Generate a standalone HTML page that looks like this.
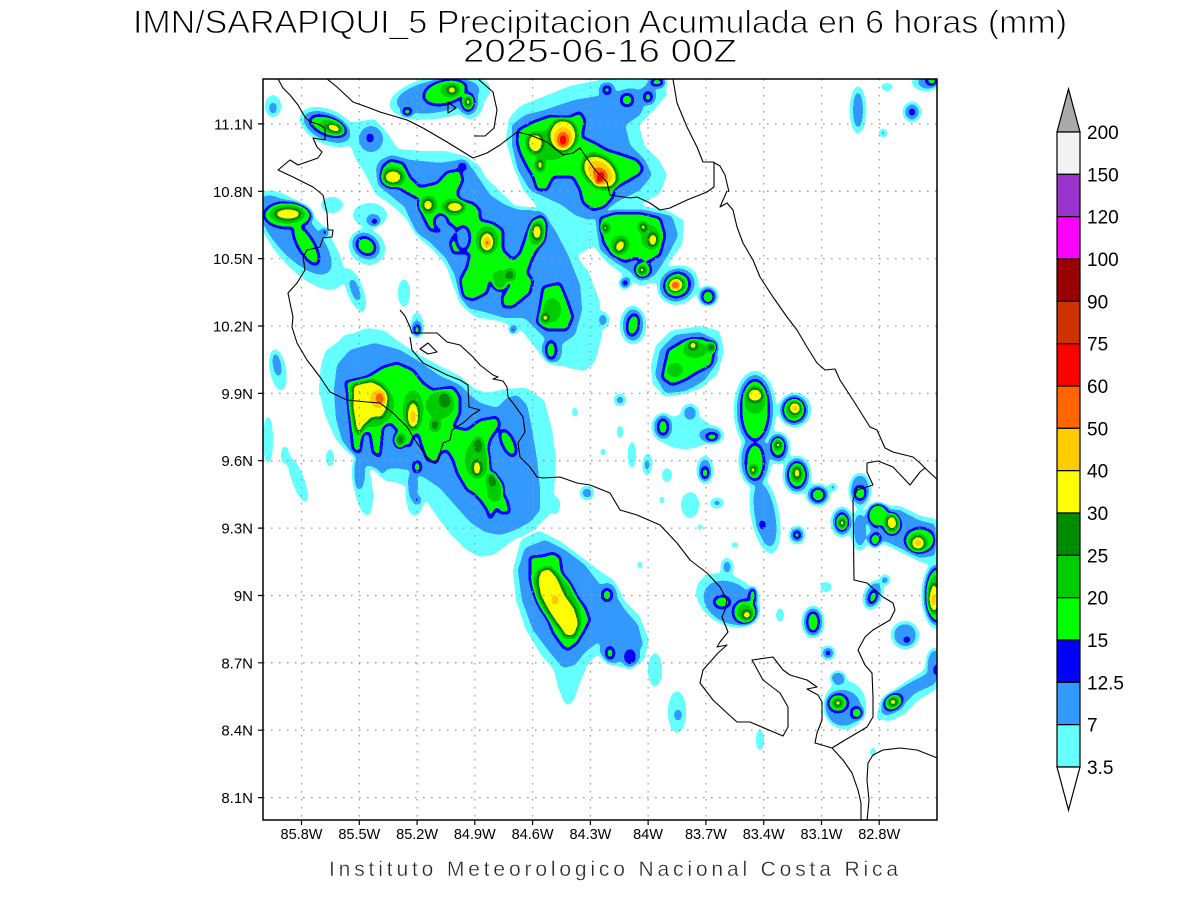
<!DOCTYPE html>
<html><head><meta charset="utf-8"><style>
html,body{margin:0;padding:0;background:#fff;}
svg{display:block;}
text{font-family:"Liberation Sans",sans-serif;}
</style></head><body>
<svg width="1200" height="900" viewBox="0 0 1200 900" xmlns="http://www.w3.org/2000/svg">
<defs>
<clipPath id="pc"><rect x="263" y="79" width="674" height="741"/></clipPath>
<filter id="q" filterUnits="userSpaceOnUse" x="230" y="50" width="740" height="800" color-interpolation-filters="sRGB">
<feGaussianBlur stdDeviation="2"/>
<feComponentTransfer>
<feFuncR type="discrete" tableValues="1 0.4 0.2 0 0 0 0 1 1 1 1 0.8 0.6 1 0.6 0.95"/>
<feFuncG type="discrete" tableValues="1 1 0.6 0 1 0.8 0.55 1 0.8 0.4 0 0.2 0 0 0.2 0.95"/>
<feFuncB type="discrete" tableValues="1 1 1 1 0 0 0 0 0 0 0 0 0 1 0.8 0.95"/>
</feComponentTransfer>
</filter>
</defs>
<rect width="1200" height="900" fill="#fff"/>
<g clip-path="url(#pc)">
<g filter="url(#q)">
<rect x="230" y="50" width="740" height="800" fill="#000"/>
<!-- L1 cyan -->
<g fill="#181818">
<ellipse cx="273" cy="106" rx="9" ry="12"/>
<ellipse cx="328" cy="127" rx="31" ry="18" transform="rotate(25 328 127)"/>
<ellipse cx="300" cy="240" rx="62" ry="27" transform="rotate(50 300 240)"/>
<ellipse cx="370" cy="215" rx="18" ry="13"/>
<ellipse cx="367" cy="247" rx="20" ry="18" transform="rotate(40 367 247)"/>
<ellipse cx="332" cy="205" rx="12" ry="9"/>
<ellipse cx="278" cy="370" rx="9" ry="22" transform="rotate(-10 278 370)"/>
<ellipse cx="355" cy="290" rx="9" ry="24" transform="rotate(-20 355 290)"/>
<ellipse cx="404" cy="293" rx="7" ry="15"/>
<ellipse cx="268" cy="440" rx="6" ry="25"/>
<ellipse cx="298" cy="480" rx="7" ry="25" transform="rotate(-20 298 480)"/>
<ellipse cx="285" cy="455" rx="5" ry="10"/>
<ellipse cx="417" cy="325" rx="7" ry="14"/>
<ellipse cx="440" cy="97" rx="52" ry="22" transform="rotate(-10 440 97)"/>
<ellipse cx="470" cy="100" rx="15" ry="20"/>
<polygon points="350,122 375,118 390,135 398,148 420,150 445,150 465,155 480,165 487,178 500,190 515,205 533,207 555,225 575,250 590,275 598,300 592,335 575,360 560,368 540,355 520,330 500,322 475,318 460,305 452,285 445,265 432,250 418,238 405,218 390,205 375,195 365,175 355,160 348,140"/>
<polygon points="508,118 520,105 545,95 570,85 600,79 640,79 665,79 668,95 655,110 640,125 645,145 660,160 668,175 660,195 640,205 625,212 610,225 595,245 580,255 565,245 550,222 535,205 522,190 512,165 505,140"/>
<polygon points="588,212 605,205 640,205 668,210 685,220 683,245 670,262 660,282 640,287 625,277 605,262 592,245"/>
<ellipse cx="678" cy="285" rx="22" ry="20" transform="rotate(-30 678 285)"/>
<ellipse cx="633" cy="325" rx="14" ry="20"/>
<ellipse cx="603" cy="320" rx="7" ry="9"/>
<polygon points="655,345 670,330 700,325 720,330 725,350 718,375 700,390 680,395 665,398 652,385 650,365"/>
<ellipse cx="755" cy="410" rx="22" ry="40"/>
<ellipse cx="755" cy="460" rx="17" ry="28"/>
<ellipse cx="778" cy="448" rx="13" ry="17"/>
<ellipse cx="795" cy="410" rx="17" ry="18"/>
<ellipse cx="663" cy="427" rx="12" ry="15"/>
<ellipse cx="710" cy="435" rx="15" ry="10"/>
<ellipse cx="690" cy="413" rx="10" ry="10"/>
<ellipse cx="685" cy="432" rx="28" ry="18"/>
<polygon points="560,262 588,268 600,300 603,335 596,362 585,372 565,368 555,345"/>
<ellipse cx="620" cy="400" rx="7" ry="7"/>
<ellipse cx="858" cy="110" rx="9" ry="25"/>
<ellipse cx="912" cy="112" rx="10" ry="11"/>
<ellipse cx="883" cy="133" rx="5" ry="5"/>
<ellipse cx="925" cy="82" rx="14" ry="10"/>
<ellipse cx="887" cy="87" rx="7" ry="5"/>
<ellipse cx="705" cy="470" rx="9" ry="15"/>
<ellipse cx="765" cy="515" rx="15" ry="40" transform="rotate(-10 765 515)"/>
<ellipse cx="797" cy="475" rx="15" ry="20"/>
<ellipse cx="818" cy="495" rx="13" ry="12"/>
<ellipse cx="860" cy="490" rx="12" ry="18"/>
<ellipse cx="842" cy="522" rx="12" ry="16"/>
<ellipse cx="797" cy="535" rx="9" ry="10"/>
<polygon points="868,515 880,505 900,505 920,515 937,518 937,560 925,565 905,555 885,545 870,540 865,525"/>
<ellipse cx="937" cy="595" rx="16" ry="35"/>
<ellipse cx="873" cy="595" rx="10" ry="16" transform="rotate(20 873 595)"/>
<ellipse cx="905" cy="635" rx="15" ry="15"/>
<ellipse cx="935" cy="665" rx="10" ry="18"/>
<ellipse cx="728" cy="600" rx="35" ry="25" transform="rotate(30 728 600)"/>
<ellipse cx="727" cy="567" rx="7" ry="10"/>
<ellipse cx="813" cy="622" rx="12" ry="17"/>
<ellipse cx="828" cy="653" rx="8" ry="8"/>
<ellipse cx="845" cy="705" rx="22" ry="25"/>
<polygon points="875,720 880,700 900,685 920,672 937,655 937,690 920,700 905,715 890,722"/>
<ellipse cx="655" cy="670" rx="8" ry="18"/>
<ellipse cx="677" cy="712" rx="10" ry="22"/>
<ellipse cx="760" cy="740" rx="5" ry="12"/>
<ellipse cx="780" cy="615" rx="5" ry="8"/>
<ellipse cx="826" cy="587" rx="7" ry="6"/>
<ellipse cx="690" cy="505" rx="10" ry="14"/>
<ellipse cx="648" cy="462" rx="5" ry="10"/>
<ellipse cx="667" cy="475" rx="6" ry="8"/>
<ellipse cx="717" cy="503" rx="8" ry="6"/>
<ellipse cx="860" cy="530" rx="10" ry="22"/>
<ellipse cx="873" cy="752" rx="4" ry="6"/>
<ellipse cx="885" cy="580" rx="6" ry="6"/>
<polygon points="325,350 345,336 367,327 385,330 405,345 430,360 460,375 475,388 487,392 505,388 527,387 545,400 553,430 557,460 555,490 550,515 535,530 515,540 495,555 480,558 465,550 450,535 437,518 425,500 410,488 395,483 385,482 375,472 362,460 347,452 335,440 324,415 318,390 320,365"/>
<ellipse cx="363" cy="485" rx="10" ry="32" transform="rotate(-8 363 485)"/>
<ellipse cx="415" cy="495" rx="10" ry="22"/>
<ellipse cx="330" cy="458" rx="5" ry="10"/>
<polygon points="520,540 540,530 560,540 580,555 600,570 615,580 625,600 640,615 650,640 645,660 630,670 610,665 598,655 588,665 580,685 575,700 565,705 558,690 553,670 540,655 525,630 515,600 512,570"/>
<ellipse cx="568" cy="688" rx="8" ry="18"/>
<ellipse cx="555" cy="505" rx="6" ry="10"/>
<ellipse cx="632" cy="455" rx="5" ry="15"/>
<ellipse cx="587" cy="493" rx="8" ry="8"/>
<ellipse cx="647" cy="465" rx="5" ry="12"/>
<ellipse cx="350" cy="345" rx="12" ry="12"/>
<ellipse cx="620" cy="432" rx="4" ry="8"/>
<ellipse cx="603" cy="452" rx="4" ry="5"/>
<ellipse cx="575" cy="412" rx="4" ry="6"/>
<ellipse cx="700" cy="527" rx="4" ry="4"/>
<ellipse cx="662" cy="500" rx="4" ry="5"/>
<ellipse cx="735" cy="545" rx="5" ry="4"/>
<ellipse cx="640" cy="565" rx="4" ry="5"/>
</g>
<!-- L2 light blue -->
<g fill="#282828">
<ellipse cx="273" cy="108" rx="4" ry="6"/>
<ellipse cx="327" cy="127" rx="25" ry="13" transform="rotate(25 327 127)"/>
<ellipse cx="295" cy="235" rx="50" ry="20" transform="rotate(48 295 235)"/>
<ellipse cx="373" cy="220" rx="7" ry="6"/>
<ellipse cx="366" cy="246" rx="15" ry="12" transform="rotate(40 366 246)"/>
<ellipse cx="277" cy="365" rx="4" ry="12" transform="rotate(-10 277 365)"/>
<ellipse cx="355" cy="290" rx="4" ry="12" transform="rotate(-20 355 290)"/>
<ellipse cx="417" cy="328" rx="5" ry="8"/>
<ellipse cx="438" cy="96" rx="42" ry="16" transform="rotate(-10 438 96)"/>
<ellipse cx="468" cy="101" rx="10" ry="14"/>
<polygon points="380,160 392,155 410,160 440,163 460,160 472,168 480,180 490,195 505,205 520,210 540,210 555,230 568,255 580,285 582,310 575,335 560,345 545,338 525,318 505,318 485,312 468,308 460,295 455,275 445,257 430,242 415,232 405,207 390,195 378,185 376,168"/>
<ellipse cx="371" cy="139" rx="12" ry="13"/>
<ellipse cx="556" cy="308" rx="22" ry="28" transform="rotate(20 556 308)"/>
<ellipse cx="552" cy="350" rx="10" ry="14"/>
<polygon points="512,125 525,115 545,110 575,100 605,95 630,88 650,92 640,115 625,125 630,145 645,160 652,175 640,190 620,200 605,210 590,220 575,215 562,205 545,197 530,190 518,170 512,145"/>
<ellipse cx="607" cy="90" rx="8" ry="8"/>
<ellipse cx="627" cy="100" rx="10" ry="10"/>
<ellipse cx="648" cy="95" rx="8" ry="10"/>
<ellipse cx="657" cy="82" rx="10" ry="6"/>
<polygon points="595,215 615,210 645,210 672,216 678,235 668,255 655,275 640,280 628,270 615,262 600,250"/>
<ellipse cx="677" cy="285" rx="18" ry="16" transform="rotate(-30 677 285)"/>
<ellipse cx="708" cy="296" rx="10" ry="10"/>
<ellipse cx="633" cy="325" rx="10" ry="16"/>
<ellipse cx="625" cy="283" rx="6" ry="6"/>
<ellipse cx="603" cy="320" rx="4" ry="6"/>
<polygon points="660,350 675,335 700,332 715,340 718,360 705,380 685,392 665,393 655,375"/>
<ellipse cx="755" cy="410" rx="18" ry="35"/>
<ellipse cx="755" cy="460" rx="14" ry="25"/>
<ellipse cx="778" cy="448" rx="10" ry="14"/>
<ellipse cx="794" cy="410" rx="14" ry="15"/>
<ellipse cx="663" cy="427" rx="9" ry="12"/>
<ellipse cx="710" cy="435" rx="11" ry="7"/>
<ellipse cx="690" cy="413" rx="6" ry="7"/>
<ellipse cx="620" cy="400" rx="4" ry="4"/>
<ellipse cx="858" cy="110" rx="5" ry="18"/>
<ellipse cx="912" cy="112" rx="7" ry="8"/>
<ellipse cx="883" cy="133" rx="3" ry="3"/>
<ellipse cx="928" cy="82" rx="10" ry="7"/>
<ellipse cx="705" cy="470" rx="6" ry="11"/>
<ellipse cx="765" cy="515" rx="10" ry="32" transform="rotate(-10 765 515)"/>
<ellipse cx="797" cy="475" rx="12" ry="17"/>
<ellipse cx="818" cy="495" rx="10" ry="9"/>
<ellipse cx="833" cy="487" rx="4" ry="4"/>
<ellipse cx="860" cy="490" rx="9" ry="15"/>
<ellipse cx="842" cy="522" rx="9" ry="13"/>
<ellipse cx="797" cy="535" rx="6" ry="7"/>
<polygon points="872,518 885,510 900,510 918,520 937,525 937,555 920,558 900,548 882,540 870,530"/>
<ellipse cx="937" cy="595" rx="13" ry="30"/>
<ellipse cx="873" cy="595" rx="7" ry="13" transform="rotate(20 873 595)"/>
<ellipse cx="905" cy="635" rx="11" ry="11"/>
<ellipse cx="935" cy="665" rx="8" ry="15"/>
<ellipse cx="730" cy="603" rx="28" ry="20" transform="rotate(30 730 603)"/>
<ellipse cx="727" cy="567" rx="4" ry="6"/>
<ellipse cx="813" cy="622" rx="9" ry="14"/>
<ellipse cx="828" cy="653" rx="5" ry="5"/>
<ellipse cx="843" cy="708" rx="18" ry="18"/>
<ellipse cx="838" cy="678" rx="8" ry="7"/>
<polygon points="880,712 888,695 905,685 925,675 937,665 937,683 915,693 900,708 887,716"/>
<ellipse cx="860" cy="530" rx="6" ry="16"/>
<ellipse cx="885" cy="580" rx="4" ry="4"/>
<ellipse cx="717" cy="503" rx="4" ry="3"/>
<ellipse cx="678" cy="715" rx="4" ry="6"/>
<polygon points="337,365 350,350 375,343 400,350 420,362 440,376 460,385 470,395 480,403 497,408 507,398 517,395 527,405 532,430 537,460 540,490 540,510 530,522 515,530 500,535 485,532 470,522 455,505 440,488 425,478 410,470 395,468 380,470 365,465 352,455 342,440 336,418 334,390"/>
<ellipse cx="359" cy="472" rx="6" ry="18"/>
<ellipse cx="413" cy="485" rx="5" ry="15"/>
<ellipse cx="382" cy="462" rx="5" ry="12"/>
<polygon points="525,548 545,540 565,550 585,565 600,585 612,590 625,610 638,625 643,645 632,660 615,657 598,642 585,652 575,665 563,668 548,650 533,630 522,600 518,570"/>
<ellipse cx="607" cy="595" rx="10" ry="12"/>
<ellipse cx="612" cy="650" rx="12" ry="14"/>
<ellipse cx="630" cy="655" rx="10" ry="12"/>
<ellipse cx="587" cy="493" rx="5" ry="5"/>
<ellipse cx="647" cy="465" rx="3" ry="6"/>
</g>
<!-- L3 blue -->
<g fill="#383838">
<ellipse cx="370" cy="138" rx="4" ry="5"/>
<ellipse cx="375" cy="222" rx="4" ry="4"/>
<ellipse cx="325" cy="232" rx="4" ry="4"/>
<ellipse cx="912" cy="112" rx="4" ry="4"/>
<ellipse cx="625" cy="283" rx="4" ry="4"/>
<ellipse cx="762" cy="525" rx="4" ry="5"/>
<ellipse cx="907" cy="640" rx="4" ry="4"/>
<ellipse cx="937" cy="670" rx="4" ry="6"/>
<ellipse cx="828" cy="653" rx="4" ry="4"/>
<ellipse cx="630" cy="657" rx="6" ry="8"/>
<ellipse cx="417" cy="500" rx="3" ry="4"/>
<ellipse cx="513" cy="330" rx="4" ry="4"/>
<ellipse cx="463" cy="166" rx="5" ry="5"/>
</g>
<!-- L4 lime -->
<g fill="#484848">
<ellipse cx="328" cy="126" rx="19" ry="9" transform="rotate(20 328 126)"/>
<ellipse cx="288" cy="215" rx="24" ry="13"/>
<ellipse cx="306" cy="245" rx="22" ry="8" transform="rotate(60 306 245)"/>
<ellipse cx="366" cy="246" rx="10" ry="8" transform="rotate(40 366 246)"/>
<ellipse cx="417" cy="330" rx="4" ry="5"/>
<ellipse cx="445" cy="92" rx="22" ry="12" transform="rotate(-15 445 92)"/>
<ellipse cx="468" cy="102" rx="6" ry="9"/>
<ellipse cx="407" cy="112" rx="5" ry="4"/>
<polygon points="382,167 390,160 403,163 410,177 420,187 437,183 447,172 460,170 463,180 457,193 460,200 473,203 480,210 480,220 493,223 503,230 503,250 513,260 520,253 527,233 533,220 543,215 547,223 543,240 533,257 527,273 533,280 530,293 513,307 503,307 502,297 510,285 510,272 503,283 490,280 487,293 473,300 463,297 460,280 467,267 470,253 453,253 450,243 457,230 450,223 440,232 430,230 423,217 420,200 407,193 397,187 383,180"/>
<polygon points="543,287 560,283 567,300 573,317 567,330 547,330 537,323 540,307"/>
<ellipse cx="551" cy="350" rx="5" ry="9"/>
<polygon points="518,130 533,122 550,116 567,118 580,112 585,120 582,137 595,143 607,150 623,155 637,160 643,168 640,174 628,181 615,188 613,197 605,207 593,210 583,203 580,190 573,177 553,177 547,190 537,190 533,177 527,167 520,153 517,142"/>
<ellipse cx="607" cy="90" rx="4" ry="4"/>
<ellipse cx="627" cy="100" rx="6" ry="6"/>
<ellipse cx="648" cy="97" rx="4" ry="5"/>
<ellipse cx="657" cy="82" rx="6" ry="4"/>
<polygon points="600,218 615,213 640,213 660,218 665,235 660,255 648,262 635,258 625,262 612,255 603,242"/>
<ellipse cx="643" cy="270" rx="8" ry="8"/>
<ellipse cx="677" cy="285" rx="13" ry="12" transform="rotate(-30 677 285)"/>
<ellipse cx="708" cy="297" rx="6" ry="7"/>
<ellipse cx="633" cy="325" rx="6" ry="11" transform="rotate(10 633 325)"/>
<polygon points="668,350 685,340 703,338 715,345 712,365 698,372 685,380 672,385 662,378"/>
<ellipse cx="755" cy="410" rx="14" ry="30"/>
<ellipse cx="755" cy="462" rx="9" ry="18"/>
<ellipse cx="778" cy="447" rx="7" ry="10"/>
<ellipse cx="794" cy="410" rx="11" ry="12"/>
<ellipse cx="663" cy="427" rx="5" ry="8"/>
<ellipse cx="712" cy="437" rx="6" ry="4"/>
<ellipse cx="932" cy="81" rx="6" ry="4"/>
<ellipse cx="705" cy="473" rx="4" ry="6"/>
<ellipse cx="797" cy="475" rx="9" ry="13"/>
<ellipse cx="818" cy="495" rx="7" ry="7"/>
<ellipse cx="860" cy="493" rx="6" ry="7"/>
<ellipse cx="842" cy="522" rx="6" ry="9"/>
<ellipse cx="797" cy="535" rx="4" ry="4"/>
<ellipse cx="878" cy="515" rx="11" ry="12"/>
<ellipse cx="920" cy="540" rx="15" ry="12"/>
<ellipse cx="875" cy="540" rx="6" ry="7"/>
<ellipse cx="937" cy="595" rx="11" ry="27"/>
<ellipse cx="873" cy="597" rx="4" ry="7" transform="rotate(20 873 597)"/>
<ellipse cx="722" cy="602" rx="8" ry="6"/>
<ellipse cx="745" cy="612" rx="12" ry="12"/>
<ellipse cx="753" cy="595" rx="4" ry="8"/>
<ellipse cx="813" cy="622" rx="6" ry="10"/>
<ellipse cx="838" cy="703" rx="10" ry="9"/>
<ellipse cx="857" cy="713" rx="6" ry="6"/>
<ellipse cx="893" cy="702" rx="10" ry="8" transform="rotate(-30 893 702)"/>
<polygon points="347,390 345,382 367,377 383,367 397,363 413,370 423,383 433,390 453,387 460,397 460,413 453,427 467,430 480,420 497,417 500,425 490,440 487,453 493,480 500,490 507,500 510,513 500,513 497,507 490,520 487,510 480,500 473,493 467,490 457,473 453,460 447,450 440,453 437,463 427,460 422,447 418,433 413,437 410,447 403,443 397,430 390,423 383,427 380,457 373,453 370,433 363,433 360,453 353,450 350,420"/>
<ellipse cx="508" cy="443" rx="6" ry="14" transform="rotate(-25 508 443)"/>
<ellipse cx="417" cy="467" rx="4" ry="6"/>
<polygon points="530,557 543,556 553,553 560,557 562,573 570,583 577,597 585,607 590,620 583,633 577,643 568,650 563,647 553,633 547,617 538,603 533,590 530,580"/>
<ellipse cx="607" cy="595" rx="5" ry="6"/>
<ellipse cx="610" cy="653" rx="4" ry="6"/>
</g>
<!-- holes -->
<g fill="#282828">
<ellipse cx="441" cy="222" rx="7" ry="8"/>
<ellipse cx="463" cy="238" rx="7" ry="12"/>
</g>
<!-- L5 green -->
<g fill="#585858">
<ellipse cx="331" cy="127" rx="12" ry="6" transform="rotate(20 331 127)"/>
<ellipse cx="287" cy="214" rx="18" ry="9"/>
<ellipse cx="450" cy="90" rx="10" ry="7"/>
<ellipse cx="393" cy="177" rx="12" ry="10"/>
<ellipse cx="428" cy="205" rx="9" ry="9"/>
<ellipse cx="453" cy="207" rx="12" ry="8"/>
<ellipse cx="487" cy="240" rx="11" ry="14"/>
<ellipse cx="537" cy="233" rx="8" ry="13"/>
<ellipse cx="500" cy="280" rx="8" ry="10"/>
<ellipse cx="552" cy="310" rx="9" ry="12"/>
<ellipse cx="550" cy="145" rx="20" ry="15"/>
<ellipse cx="600" cy="170" rx="20" ry="14" transform="rotate(45 600 170)"/>
<ellipse cx="620" cy="245" rx="9" ry="10" transform="rotate(30 620 245)"/>
<ellipse cx="650" cy="237" rx="9" ry="12"/>
<ellipse cx="695" cy="350" rx="12" ry="8"/>
<ellipse cx="675" cy="370" rx="8" ry="7"/>
<ellipse cx="755" cy="400" rx="11" ry="14"/>
<ellipse cx="794" cy="410" rx="8" ry="9"/>
<ellipse cx="797" cy="474" rx="6" ry="9"/>
<ellipse cx="892" cy="525" rx="8" ry="9"/>
<ellipse cx="918" cy="543" rx="10" ry="9"/>
<ellipse cx="935" cy="595" rx="8" ry="20"/>
<ellipse cx="745" cy="612" rx="8" ry="8"/>
<ellipse cx="372" cy="405" rx="22" ry="22"/>
<ellipse cx="413" cy="410" rx="10" ry="20"/>
<ellipse cx="440" cy="405" rx="14" ry="14"/>
<ellipse cx="477" cy="460" rx="12" ry="18"/>
<ellipse cx="495" cy="490" rx="8" ry="12"/>
<ellipse cx="557" cy="600" rx="18" ry="35" transform="rotate(-30 557 600)"/>
</g>
<!-- L6 dark green -->
<g fill="#686868">
<ellipse cx="510" cy="275" rx="5" ry="6"/>
<ellipse cx="445" cy="400" rx="6" ry="8"/>
<ellipse cx="492" cy="480" rx="5" ry="7"/>
<ellipse cx="400" cy="440" rx="5" ry="7"/>
<ellipse cx="478" cy="445" rx="5" ry="8"/>
<ellipse cx="435" cy="425" rx="5" ry="6"/>
</g>
<!-- L7 yellow -->
<g fill="#787878">
<ellipse cx="334" cy="128" rx="8" ry="4.5" transform="rotate(20 334 128)"/>
<ellipse cx="288" cy="214" rx="13" ry="6"/>
<ellipse cx="452" cy="90" rx="5" ry="4.5"/>
<ellipse cx="468" cy="102" rx="4" ry="5"/>
<ellipse cx="393" cy="177" rx="9" ry="7"/>
<ellipse cx="428" cy="205" rx="5.5" ry="6"/>
<ellipse cx="455" cy="207" rx="9" ry="5.5"/>
<ellipse cx="487" cy="242" rx="7" ry="10"/>
<ellipse cx="537" cy="232" rx="5" ry="8"/>
<ellipse cx="545" cy="318" rx="4" ry="5"/>
<ellipse cx="535" cy="143" rx="8" ry="10"/>
<ellipse cx="563" cy="135" rx="14" ry="16"/>
<ellipse cx="600" cy="172" rx="20" ry="14" transform="rotate(40 600 172)"/>
<ellipse cx="540" cy="165" rx="4" ry="6"/>
<ellipse cx="605" cy="228" rx="4" ry="4.5"/>
<ellipse cx="620" cy="246" rx="5" ry="7" transform="rotate(30 620 246)"/>
<ellipse cx="643" cy="227" rx="4" ry="4.5"/>
<ellipse cx="653" cy="240" rx="5" ry="7"/>
<ellipse cx="642" cy="270" rx="4" ry="4.5"/>
<ellipse cx="676" cy="285" rx="8" ry="7" transform="rotate(-30 676 285)"/>
<ellipse cx="693" cy="345" rx="4.5" ry="5"/>
<ellipse cx="712" cy="347" rx="4" ry="4.5"/>
<ellipse cx="755" cy="395" rx="8" ry="7"/>
<ellipse cx="753" cy="470" rx="4" ry="5"/>
<ellipse cx="778" cy="445" rx="4" ry="4.5"/>
<ellipse cx="795" cy="408" rx="6" ry="6"/>
<ellipse cx="797" cy="473" rx="4" ry="6"/>
<ellipse cx="842" cy="523" rx="4" ry="5"/>
<ellipse cx="892" cy="522" rx="6" ry="8"/>
<ellipse cx="918" cy="543" rx="7" ry="7"/>
<ellipse cx="934" cy="598" rx="5" ry="15"/>
<ellipse cx="747" cy="615" rx="5" ry="5"/>
<ellipse cx="838" cy="703" rx="4.5" ry="4.5"/>
<ellipse cx="893" cy="702" rx="5" ry="4.5"/>
<polygon points="352,385 362,382 372,380 382,385 388,395 387,410 382,418 372,418 365,425 360,435 355,430 352,410"/>
<ellipse cx="413" cy="415" rx="6" ry="14"/>
<ellipse cx="477" cy="468" rx="4.5" ry="8"/>
<polygon points="540,570 550,567 558,578 565,594 575,608 580,624 575,637 565,637 558,626 548,611 540,596 537,581"/>
</g>
<!-- L8 gold -->
<g fill="#888888">
<ellipse cx="487" cy="242" rx="4" ry="6"/>
<ellipse cx="563" cy="138" rx="9" ry="11"/>
<ellipse cx="600" cy="172" rx="14" ry="9" transform="rotate(40 600 172)"/>
<ellipse cx="676" cy="285" rx="6" ry="5"/>
<ellipse cx="795" cy="408" rx="4" ry="4"/>
<ellipse cx="918" cy="543" rx="4" ry="4"/>
<ellipse cx="933" cy="600" rx="3.5" ry="7"/>
<ellipse cx="378" cy="399" rx="8" ry="9"/>
<ellipse cx="413" cy="417" rx="3.5" ry="7"/>
<ellipse cx="555" cy="600" rx="4" ry="5"/>
</g>
<!-- L9 orange -->
<g fill="#989898">
<ellipse cx="563" cy="140" rx="6" ry="8"/>
<ellipse cx="600" cy="175" rx="9" ry="6" transform="rotate(50 600 175)"/>
<ellipse cx="675" cy="285" rx="4" ry="4"/>
<ellipse cx="380" cy="398" rx="4.5" ry="6"/>
<ellipse cx="487" cy="243" rx="3" ry="4"/>
</g>
<!-- L10 red -->
<g fill="#a8a8a8">
<ellipse cx="563" cy="140" rx="4" ry="6"/>
<ellipse cx="600" cy="178" rx="4" ry="8" transform="rotate(30 600 178)"/>
<ellipse cx="675" cy="285" rx="3" ry="3.5"/>
</g>
</g>
</g>

<!-- grid -->
<g stroke="#9a9a9a" stroke-width="1.3" stroke-dasharray="1.5 6.5" fill="none">
<path d="M301.5 79V820M359.3 79V820M417.1 79V820M474.8 79V820M532.6 79V820M590.4 79V820M648.1 79V820M705.9 79V820M763.7 79V820M821.5 79V820M879.2 79V820"/>
<path d="M263 123.9H937M263 191.3H937M263 258.6H937M263 326H937M263 393.4H937M263 460.7H937M263 528.1H937M263 595.5H937M263 662.8H937M263 730.2H937M263 797.6H937"/>
</g>

<!-- coastlines -->
<g stroke="#000" stroke-width="1.1" fill="none" stroke-linejoin="round" clip-path="url(#pc)">
<polyline points="278,79 283,88 290,95 298,105 305,117 310,122 318,124 325,128 325,140 313,138 317,147 322,152 318,158 298,165 290,160 278,170 293,177 313,187 323,195 327,213 328,230 333,230 332,237 323,238 320,247 307,250 303,257 305,270 297,283 288,293 290,303 293,317 292,327 297,343 307,360 320,377 330,392 347,400 367,402 380,403 393,413 407,427 417,443 427,457 436,464"/>
<polyline points="400,310 405,316 410,327 412,333 427,333 437,333 447,342 460,345 473,357 480,365 493,375 498,377 493,379 503,381 507,387 508,397 513,403 523,417 525,432 518,443 520,457 530,467 537,477 543,478 560,477 577,483 590,485 610,493 620,510 637,515 660,525 677,543 690,560 707,573 720,587 727,600 725,610 722,617 728,632 720,642 717,647 727,645 718,653 703,670 700,683 713,700 727,713 737,722 750,722 783,736 788,727 788,707 780,693 763,680 752,660 773,657 783,670 790,675 807,680 817,687 807,689 818,695 822,702 822,720 817,733 815,743 832,748 843,760 852,773 858,790 861,803 861,821"/>
<polyline points="410,337 412,350 423,363 447,375 460,380 468,385 469,407 480,410 472,415 463,423 452,430 450,440 443,443 437,463"/>
<polygon points="420,349 428,343 437,352 428,354"/>
<polyline points="327,79 337,87 353,102 367,107 380,112 407,120 423,128 447,142 473,158 487,153 500,145 517,132 530,135 547,142 563,155 573,153 580,148 595,170 607,182 610,195 630,198 637,197 650,203 660,210 670,208 687,200 707,192 714,187 714,163"/>
<polyline points="478,79 493,92 497,110 494,128 485,136 474,136"/>
<polygon points="448,102 448,113 456,108"/>
<polyline points="673,79 677,103 687,127 697,147 703,162 713,162 720,166 725,175 729,192"/>
<polyline points="727,191 720,207 727,203 733,210 737,227 743,243 753,260 760,277 773,297 787,317 797,330 807,347 817,363 825,370 835,369 840,380 853,400 870,427 877,430 885,448 893,452 913,457 920,463 927,470 940,482"/>
<polyline points="925,468 920,472 910,485 893,467 878,461 867,463 867,472 873,485 857,490 853,500 854,580 867,583 883,597 893,603 895,610 890,620 873,630 865,637 858,650 865,665 872,673 873,697 873,717 867,727 857,733 845,740 832,748"/>
<polyline points="867,821 869,800 867,780 868,763 873,755 883,750 900,748 917,750 940,759"/>
</g>

<!-- frame & ticks -->
<rect x="263" y="79" width="674" height="741" fill="none" stroke="#000" stroke-width="1.5"/>
<g stroke="#000" stroke-width="1.2">
<path d="M301.5 820v5M359.3 820v5M417.1 820v5M474.8 820v5M532.6 820v5M590.4 820v5M648.1 820v5M705.9 820v5M763.7 820v5M821.5 820v5M879.2 820v5"/>
<path d="M258 123.9h5M258 191.3h5M258 258.6h5M258 326h5M258 393.4h5M258 460.7h5M258 528.1h5M258 595.5h5M258 662.8h5M258 730.2h5M258 797.6h5"/>
</g>

<!-- axis labels -->
<g font-size="15" fill="#000" text-anchor="end">
<text x="253" y="129.4">11.1N</text>
<text x="253" y="196.8">10.8N</text>
<text x="253" y="264.1">10.5N</text>
<text x="253" y="331.5">10.2N</text>
<text x="253" y="398.9">9.9N</text>
<text x="253" y="466.2">9.6N</text>
<text x="253" y="533.6">9.3N</text>
<text x="253" y="601">9N</text>
<text x="253" y="668.3">8.7N</text>
<text x="253" y="735.7">8.4N</text>
<text x="253" y="803.1">8.1N</text>
</g>
<g font-size="14.5" fill="#000" text-anchor="middle">
<text x="301.5" y="839">85.8W</text>
<text x="359.3" y="839">85.5W</text>
<text x="417.1" y="839">85.2W</text>
<text x="474.8" y="839">84.9W</text>
<text x="532.6" y="839">84.6W</text>
<text x="590.4" y="839">84.3W</text>
<text x="648.1" y="839">84W</text>
<text x="705.9" y="839">83.7W</text>
<text x="763.7" y="839">83.4W</text>
<text x="821.5" y="839">83.1W</text>
<text x="879.2" y="839">82.8W</text>
</g>

<!-- titles -->
<g fill="#000" stroke="#fff" stroke-width="0.9">
<text x="133" y="33" font-size="32" textLength="934" lengthAdjust="spacingAndGlyphs">IMN/SARAPIQUI_5 Precipitacion Acumulada en 6 horas (mm)</text>
<text x="463" y="62" font-size="32" textLength="274" lengthAdjust="spacingAndGlyphs">2025-06-16 00Z</text>
</g>
<text x="329" y="876" font-size="21" textLength="569" lengthAdjust="spacing" fill="#222" stroke="#fff" stroke-width="0.4">Instituto Meteorologico Nacional Costa Rica</text>

<!-- colorbar -->
<g stroke="#000" stroke-width="1.2">
<polygon points="1057,132 1068.5,89 1080,132" fill="#aaaaaa"/>
<rect x="1057" y="132" width="23" height="42.33" fill="#f2f2f2"/>
<rect x="1057" y="174.33" width="23" height="42.33" fill="#9933cc"/>
<rect x="1057" y="216.67" width="23" height="42.33" fill="#ff00ff"/>
<rect x="1057" y="259" width="23" height="42.33" fill="#990000"/>
<rect x="1057" y="301.33" width="23" height="42.33" fill="#cc3300"/>
<rect x="1057" y="343.67" width="23" height="42.33" fill="#ff0000"/>
<rect x="1057" y="386" width="23" height="42.33" fill="#ff6600"/>
<rect x="1057" y="428.33" width="23" height="42.33" fill="#ffcc00"/>
<rect x="1057" y="470.67" width="23" height="42.33" fill="#ffff00"/>
<rect x="1057" y="513" width="23" height="42.33" fill="#008c00"/>
<rect x="1057" y="555.33" width="23" height="42.33" fill="#00cc00"/>
<rect x="1057" y="597.67" width="23" height="42.33" fill="#00ff00"/>
<rect x="1057" y="640" width="23" height="42.33" fill="#0000ff"/>
<rect x="1057" y="682.33" width="23" height="42.33" fill="#3399ff"/>
<rect x="1057" y="724.67" width="23" height="42.33" fill="#66ffff"/>
<polygon points="1057,767 1068.5,810 1080,767" fill="#ffffff"/>
</g>
<g font-size="19" fill="#000">
<text x="1087" y="139">200</text>
<text x="1087" y="181.3">150</text>
<text x="1087" y="223.7">120</text>
<text x="1087" y="266">100</text>
<text x="1087" y="308.3">90</text>
<text x="1087" y="350.7">75</text>
<text x="1087" y="393">60</text>
<text x="1087" y="435.3">50</text>
<text x="1087" y="477.7">40</text>
<text x="1087" y="520">30</text>
<text x="1087" y="562.3">25</text>
<text x="1087" y="604.7">20</text>
<text x="1087" y="647">15</text>
<text x="1087" y="689.3">12.5</text>
<text x="1087" y="731.7">7</text>
<text x="1087" y="774">3.5</text>
</g>
</svg>
</body></html>
